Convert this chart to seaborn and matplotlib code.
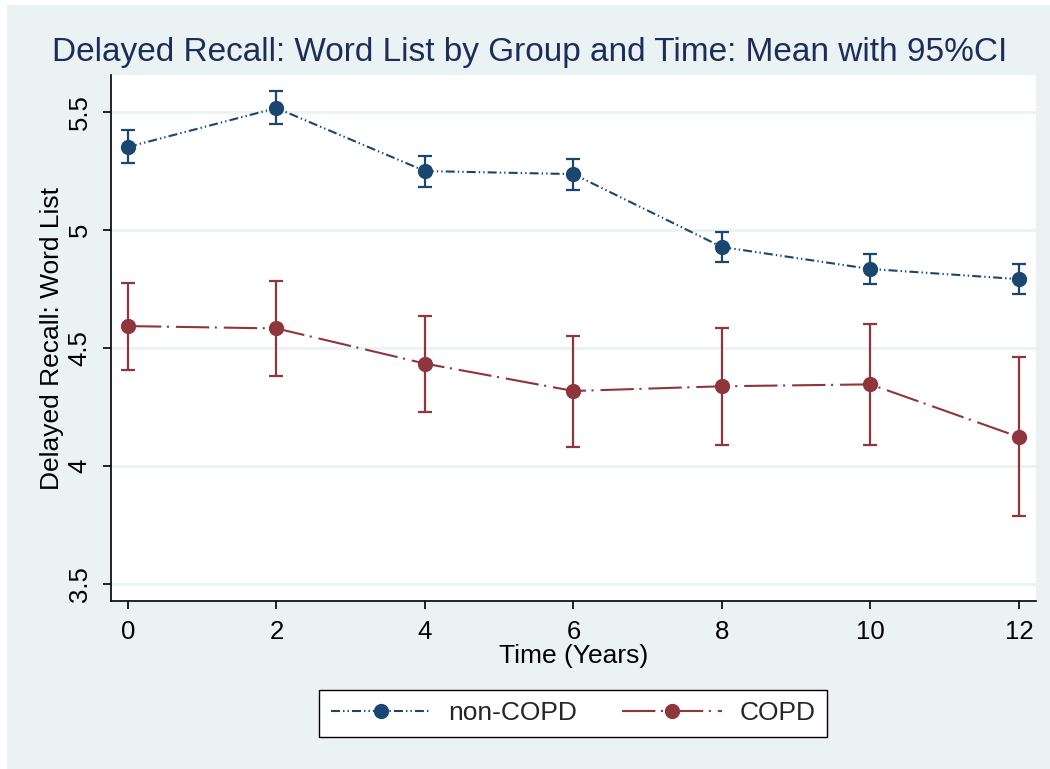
import matplotlib
matplotlib.use("Agg")
import matplotlib.pyplot as plt
import seaborn as sns
import pandas as pd
import numpy as np
from matplotlib.patches import Rectangle

# ---- data ----
years = [0, 2, 4, 6, 8, 10, 12]
groups = ["non-COPD", "COPD"]
noncopd_mean = [5.352, 5.517, 5.250, 5.237, 4.928, 4.835, 4.792]
noncopd_lo = [5.284, 5.449, 5.182, 5.170, 4.864, 4.771, 4.729]
noncopd_hi = [5.424, 5.589, 5.314, 5.300, 4.990, 4.898, 4.856]
copd_mean = [4.593, 4.583, 4.434, 4.318, 4.338, 4.346, 4.123]
copd_lo = [4.407, 4.383, 4.230, 4.082, 4.088, 4.089, 3.787]
copd_hi = [4.775, 4.785, 4.634, 4.551, 4.585, 4.602, 4.461]
yticks = [3.5, 4, 4.5, 5, 5.5]
xticks = [0, 2, 4, 6, 8, 10, 12]

title = "Delayed Recall: Word List by Group and Time: Mean with 95%CI"
ylabel = "Delayed Recall: Word List"
xlabel = "Time (Years)"

navy = "#1a476f"
maroon = "#90353b"
bg = "#eaf2f3"

df = pd.DataFrame({
    "time": years * 2,
    "mean": noncopd_mean + copd_mean,
    "lo": noncopd_lo + copd_lo,
    "hi": noncopd_hi + copd_hi,
    "group": [groups[0]] * len(years) + [groups[1]] * len(years),
})

sns.set_theme(style="white")
plt.rcParams["font.family"] = ["Liberation Sans", "DejaVu Sans"]
plt.rcParams["lines.scale_dashes"] = False

fig = plt.figure(figsize=(10.5, 7.69), dpi=100, facecolor="white")
fig.patches.append(Rectangle((7 / 1050, 0), 1, 1 - 5 / 769, transform=fig.transFigure,
                             facecolor=bg, edgecolor="none", zorder=-10))
ax = fig.add_axes([111 / 1050, 1 - 601 / 769, (1036 - 111) / 1050, (601 - 75) / 769])
ax.set_facecolor("white")

palette = {groups[0]: navy, groups[1]: maroon}
dashes = {groups[0]: (6.5, 2.2, 1.0, 2.2, 1.0, 2.2), groups[1]: (24, 4, 1.5, 5)}

# error bars
for g in groups:
    sub = df[df["group"] == g]
    ax.errorbar(sub["time"], sub["mean"],
                yerr=[sub["mean"] - sub["lo"], sub["hi"] - sub["mean"]],
                fmt="none", ecolor=palette[g], elinewidth=1.6, capsize=5, capthick=1.6, zorder=2)

sns.lineplot(data=df, x="time", y="mean", hue="group", style="group",
             palette=palette, dashes=dashes, markers={groups[0]: "o", groups[1]: "o"},
             markersize=11, markeredgewidth=0, linewidth=1.5, ax=ax, zorder=3, legend=True)

ax.set_xlim(-0.229, 12.23)
ax.set_ylim(3.428, 5.657)
ax.set_xticks(xticks)
ax.set_xticklabels([str(t) for t in xticks])
ax.set_yticks(yticks)
ax.set_yticklabels([("%g" % v) for v in yticks], rotation=90, va="center")
ax.grid(False)
ax.yaxis.grid(True, color=bg, linewidth=2)
ax.set_axisbelow(True)

for s in ["top", "right"]:
    ax.spines[s].set_visible(False)
for s in ["left", "bottom"]:
    ax.spines[s].set_color("black")
    ax.spines[s].set_linewidth(1.2)

ax.tick_params(axis="both", which="major", direction="out", length=6, width=1.2,
               color="black", labelsize=18.5, labelcolor="black", pad=8,
               left=True, bottom=True)

ax.set_xlabel(xlabel, fontsize=19, color="black", labelpad=0)
ax.set_ylabel(ylabel, fontsize=19, color="black")
ax.yaxis.set_label_coords(-0.0638, 0.5)
ax.yaxis.label.set_va("center")

fig.text(530 / 1050, 1 - 52 / 769, title, ha="center", va="center",
         fontsize=24, color="#1c2d5a")

handles, labels = ax.get_legend_handles_labels()
ax.legend_.remove()
leg = fig.legend(handles, labels, loc="center", bbox_to_anchor=(573 / 1050, 1 - 713.5 / 769),
                 ncol=2, frameon=True, fancybox=False, fontsize=19, handlelength=3.8,
                 handletextpad=0.65, columnspacing=1.7, borderpad=0.45)
leg.get_frame().set_edgecolor("black")
leg.get_frame().set_linewidth(1.0)
leg.get_frame().set_facecolor("white")
leg.get_frame().set_alpha(1)

fig.savefig("out.png", dpi=100, facecolor=fig.get_facecolor())
